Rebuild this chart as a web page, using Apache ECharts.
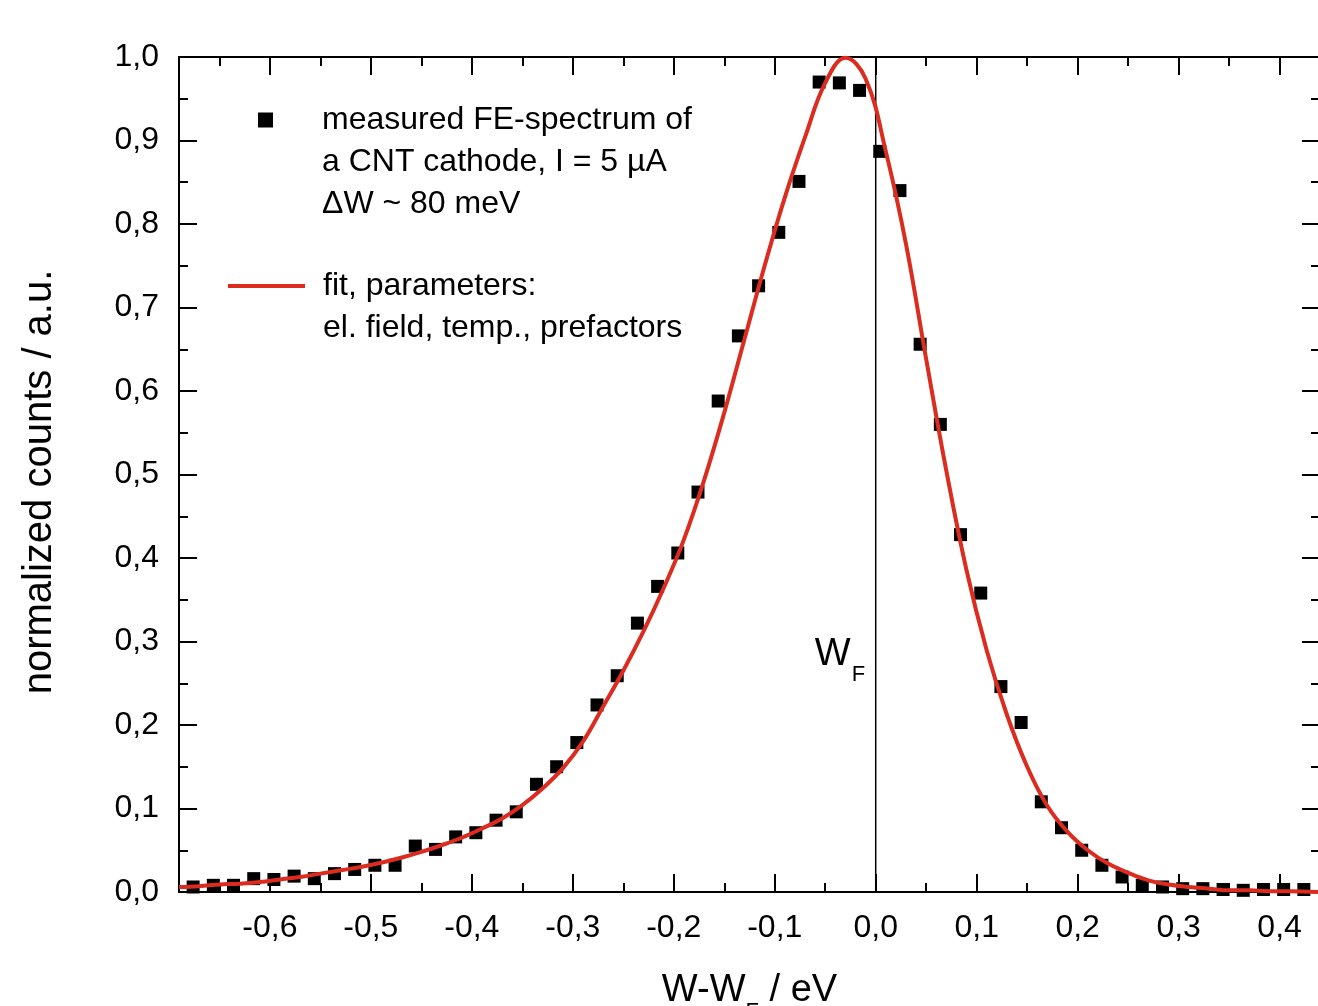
<!DOCTYPE html>
<html>
<head>
<meta charset="utf-8">
<script src="https://cdn.jsdelivr.net/npm/echarts@6/dist/echarts.min.js"></script>
<style>
html,body{margin:0;padding:0;background:#fff;overflow:hidden}
#chart{width:1318px;height:1006px}
</style>
</head>
<body>
<div id="chart"></div>
<script>
// ---- data ----
const measuredX = [-0.676,-0.656,-0.636,-0.616,-0.596,-0.576,-0.556,-0.536,-0.516,-0.496,-0.476,-0.456,-0.436,-0.416,-0.396,-0.376,-0.356,-0.336,-0.316,-0.296,-0.276,-0.256,-0.236,-0.216,-0.196,-0.176,-0.156,-0.136,-0.116,-0.096,-0.076,-0.056,-0.036,-0.016,0.004,0.024,0.044,0.064,0.084,0.104,0.124,0.144,0.164,0.184,0.204,0.224,0.244,0.264,0.284,0.304,0.324,0.344,0.364,0.384,0.404,0.424];
const measuredY = [0.006,0.008,0.008,0.016,0.015,0.019,0.016,0.022,0.027,0.032,0.032,0.055,0.051,0.066,0.071,0.086,0.096,0.129,0.150,0.179,0.224,0.259,0.322,0.366,0.406,0.479,0.588,0.666,0.726,0.790,0.851,0.970,0.969,0.960,0.887,0.840,0.656,0.560,0.428,0.358,0.246,0.203,0.108,0.077,0.050,0.032,0.018,0.008,0.006,0.004,0.004,0.003,0.002,0.003,0.003,0.003];
const fitX = [-0.69,-0.67,-0.65,-0.63,-0.61,-0.59,-0.57,-0.55,-0.53,-0.51,-0.49,-0.47,-0.45,-0.43,-0.41,-0.39,-0.37,-0.35,-0.33,-0.31,-0.29,-0.27,-0.25,-0.23,-0.21,-0.19,-0.17,-0.15,-0.13,-0.11,-0.09,-0.07,-0.05,-0.03,-0.01,0.01,0.03,0.05,0.07,0.09,0.11,0.13,0.15,0.17,0.19,0.21,0.23,0.25,0.27,0.29,0.31,0.33,0.35,0.37,0.39,0.41,0.44];
const fitY = [0.006,0.007,0.009,0.010,0.012,0.015,0.018,0.022,0.026,0.030,0.035,0.041,0.048,0.056,0.065,0.076,0.088,0.104,0.124,0.148,0.180,0.222,0.265,0.312,0.364,0.422,0.493,0.574,0.662,0.750,0.832,0.904,0.969,0.999,0.974,0.887,0.776,0.638,0.504,0.385,0.289,0.212,0.150,0.103,0.072,0.050,0.034,0.023,0.014,0.009,0.006,0.004,0.002,0.002,0.001,0.001,0.000];
const fermiX = [0, 0];
const fermiY = [0, 1];
const xRange = [-0.69, 0.44];
const yRange = [0, 1];
const measuredName = 'measured FE-spectrum of\na CNT cathode, I = 5 µA\nΔW ~ 80 meV';
const fitName = 'fit, parameters:\nel. field, temp., prefactors';
const yTitle = 'normalized counts / a.u.';
const xTitle = 'W-W{s|F} / eV';

// ---- chart ----
const FONT = "'Liberation Sans', Arial, sans-serif";
const zip = (a, b) => a.map((v, i) => [v, b[i]]);
const fmt = v => {
  const r = Math.round(v * 10);
  if (Math.abs(v * 10 - r) > 1e-6) return '';
  return (r / 10).toFixed(1).replace('.', ',').replace('-0,0', '0,0');
};
const lineBlack = { color: '#000', width: 2 };

function xAx(pos, major, showLine, withLabel) {
  const step = major ? 0.1 : 0.05;
  return {
    type: 'value', position: pos, min: xRange[0], max: xRange[1],
    minInterval: step, maxInterval: step, splitNumber: 10,
    axisLine: { show: showLine, onZero: false, lineStyle: lineBlack },
    axisTick: { show: true, inside: true, length: major ? 18 : 9, lineStyle: lineBlack },
    axisLabel: withLabel ? { show: true, margin: 20, color: '#000', fontFamily: FONT, fontSize: 32, formatter: fmt, showMinLabel: false, showMaxLabel: false } : { show: false },
    splitLine: { show: false }
  };
}
function yAx(pos, withLabel) {
  return {
    type: 'value', position: pos, min: yRange[0], max: yRange[1], interval: 0.1,
    axisLine: { show: true, onZero: false, lineStyle: lineBlack },
    axisTick: { show: true, inside: true, length: 18, lineStyle: lineBlack },
    minorTick: { show: true, splitNumber: 2, length: 9, lineStyle: lineBlack },
    axisLabel: withLabel ? { show: true, margin: 20, color: '#000', fontFamily: FONT, fontSize: 32, formatter: fmt } : { show: false },
    splitLine: { show: false }
  };
}

const xMain = xAx('bottom', true, true, true);
Object.assign(xMain, {
  name: xTitle, nameLocation: 'middle', nameGap: 77,
  nameTextStyle: {
    color: '#000', fontFamily: FONT, fontSize: 38, lineHeight: 44, verticalAlign: 'top',
    rich: { s: { fontFamily: FONT, fontSize: 22, lineHeight: 22, padding: [32, 0, 0, 0], verticalAlign: 'top', color: '#000' } }
  }
});
const yMain = yAx('left', true);
Object.assign(yMain, {
  name: yTitle, nameLocation: 'middle', nameGap: 119,
  nameTextStyle: { color: '#000', fontFamily: FONT, fontSize: 40, padding: [0, 15, 0, 0] }
});

const chart = echarts.init(document.getElementById('chart'), null, { renderer: 'canvas' });
chart.setOption({
  animation: false,
  backgroundColor: '#fff',
  grid: { left: 179, top: 57, right: -2, bottom: 114, containLabel: false, outerBoundsMode: 'none' },
  xAxis: [xMain, xAx('bottom', false, false, false), xAx('top', true, true, false), xAx('top', false, false, false)],
  yAxis: [yMain, yAx('right', false)],
  legend: [
    {
      data: [{ name: measuredName, icon: 'rect' }], selectedMode: false, orient: 'vertical',
      left: 258, top: 15, padding: 0, itemWidth: 15, itemHeight: 15,
      formatter: name => '\n\n' + name,
      textStyle: { color: '#000', fontFamily: FONT, fontSize: 32, lineHeight: 42, padding: [0, 0, 0, 44] }
    },
    {
      data: [{ name: fitName, icon: 'rect' }], selectedMode: false, orient: 'vertical',
      left: 228, top: 223, padding: 0, itemWidth: 77, itemHeight: 4,
      formatter: name => '\n' + name,
      textStyle: { color: '#000', fontFamily: FONT, fontSize: 32, lineHeight: 42, padding: [0, 0, 0, 13] }
    }
  ],
  series: [
    {
      name: 'Fermi level', type: 'line', data: zip(fermiX, fermiY), symbol: 'none',
      lineStyle: { color: '#000', width: 1.5 }, z: 1, silent: true
    },
    {
      name: measuredName, type: 'scatter', data: zip(measuredX, measuredY),
      symbol: 'rect', symbolSize: 13, itemStyle: { color: '#000', opacity: 1 }, z: 2
    },
    {
      name: fitName, type: 'line', data: zip(fitX, fitY), smooth: 0.4,
      symbol: 'none', showSymbol: false,
      lineStyle: { color: '#dc2b1f', width: 4 }, itemStyle: { color: '#dc2b1f' }, z: 3
    }
  ]
});

// W_F label next to the Fermi level line
const p0 = chart.convertToPixel({ xAxisIndex: 0, yAxisIndex: 0 }, [0, 0.285]);
const p1 = chart.convertToPixel({ xAxisIndex: 0, yAxisIndex: 0 }, [0, 0.260]);
chart.setOption({
  graphic: [
    { type: 'text', x: p0[0] - 25, y: p0[1], style: { text: 'W', fill: '#000', font: '38px ' + FONT, textAlign: 'right', textVerticalAlign: 'middle' } },
    { type: 'text', x: p1[0] - 24, y: p1[1], style: { text: 'F', fill: '#000', font: '22px ' + FONT, textAlign: 'left', textVerticalAlign: 'middle' } }
  ]
});
</script>
</body>
</html>
